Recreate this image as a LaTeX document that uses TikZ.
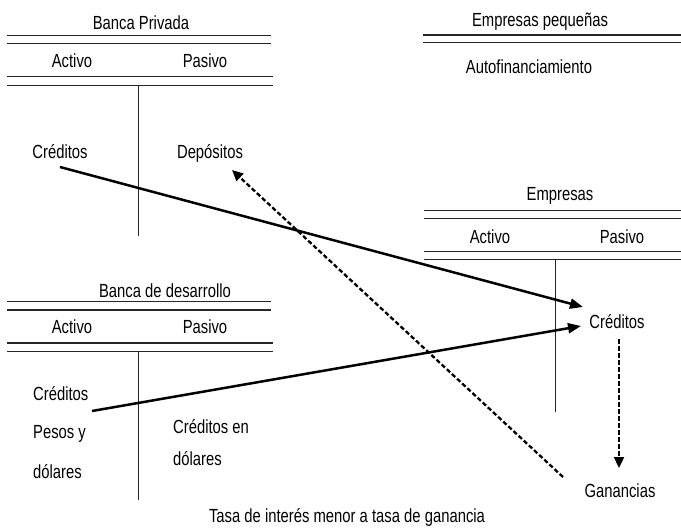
\documentclass[tikz,border=0pt]{standalone}
\usepackage{fontspec}
\setmainfont{Liberation Sans}[FakeStretch=0.78]
\usetikzlibrary{arrows.meta}
\begin{document}
\begin{tikzpicture}[x=1pt,y=-1pt,
  lbl/.style={font=\fontsize{19}{22}\selectfont, inner sep=0pt, anchor=base},
  lbll/.style={lbl, anchor=base west},
  rule/.style={line width=1.3pt, draw=black!85},
  tbar/.style={line width=1pt, draw=black!85},
  flow/.style={line width=2.5pt, -{Triangle[length=13pt,width=10pt]}},
  dflow/.style={line width=2.3pt, dash pattern=on 4.5pt off 2.5pt, -{Triangle[length=11pt,width=10pt]}}]
\useasboundingbox (0,0) rectangle (681,530);
% Banca Privada
\node[lbl] (bpt) at (141,30) {Banca Privada};
\draw[rule] (7,35.7) -- (271,35.7) (7,43.3) -- (271,43.3);
\node[lbl] (bpa) at (72,67) {Activo};
\node[lbl] (bpp) at (205,67) {Pasivo};
\draw[rule] (7,76.7) -- (273,76.7) (7,85.3) -- (273,85.3);
\draw[tbar] (138,85.3) -- (138,236);
\node[lbl] (bpc) at (60,158) {Créditos};
\node[lbl] (bpd) at (210,158) {Depósitos};
% Empresas pequenas
\node[lbl] (ept) at (540,27) {Empresas pequeñas};
\draw[rule] (423,35) -- (681,35) (423,42.3) -- (681,42.3);
\node[lbl] (epa) at (529,73) {Autofinanciamiento};
% Empresas
\node[lbl] (et) at (560,200) {Empresas};
\draw[rule] (424,210.7) -- (681,210.7) (424,218.3) -- (681,218.3);
\node[lbl] (ea) at (490,243) {Activo};
\node[lbl] (ep) at (622,243) {Pasivo};
\draw[rule] (424,251.7) -- (681,251.7) (424,259.7) -- (681,259.7);
\draw[tbar] (555,259.7) -- (555,412);
\node[lbl] (ec) at (617,328) {Créditos};
\node[lbl] (eg) at (620,497) {Ganancias};
% Banca de desarrollo
\node[lbl] (bdt) at (165,297) {Banca de desarrollo};
\draw[rule] (7,301.7) -- (271,301.7) (7,310) -- (271,310);
\node[lbl] (bda) at (72,333) {Activo};
\node[lbl] (bdp) at (205,333) {Pasivo};
\draw[rule] (7,343) -- (273,343) (7,351.7) -- (273,351.7);
\draw[tbar] (138,351.7) -- (138,500);
\node[lbll] (bdc) at (33,400) {Créditos};
\node[lbll] (bdpy) at (33,438) {Pesos y};
\node[lbll] (bdd) at (33,478) {dólares};
\node[lbll] (bdce) at (173,433) {Créditos en};
\node[lbll] (bddd) at (173,465) {dólares};
% bottom
\node[lbl] (tasa) at (347,522) {Tasa de interés menor a tasa de ganancia};
% connectors
\coordinate (a1s) at (60,167);
\coordinate (a1e) at (583,307);
\coordinate (a2s) at (92,411);
\coordinate (a2e) at (581,326);
\coordinate (a3s) at (563,477);
\coordinate (a3e) at (232,170);
\coordinate (a4s) at (619,339);
\coordinate (a4e) at (619,468);
\draw[flow] (a1s) -- (a1e);
\draw[flow] (a2s) -- (a2e);
\draw[dflow] (a3s) -- (a3e);
\draw[dflow] (a4s) -- (a4e);
\end{tikzpicture}
\end{document}
